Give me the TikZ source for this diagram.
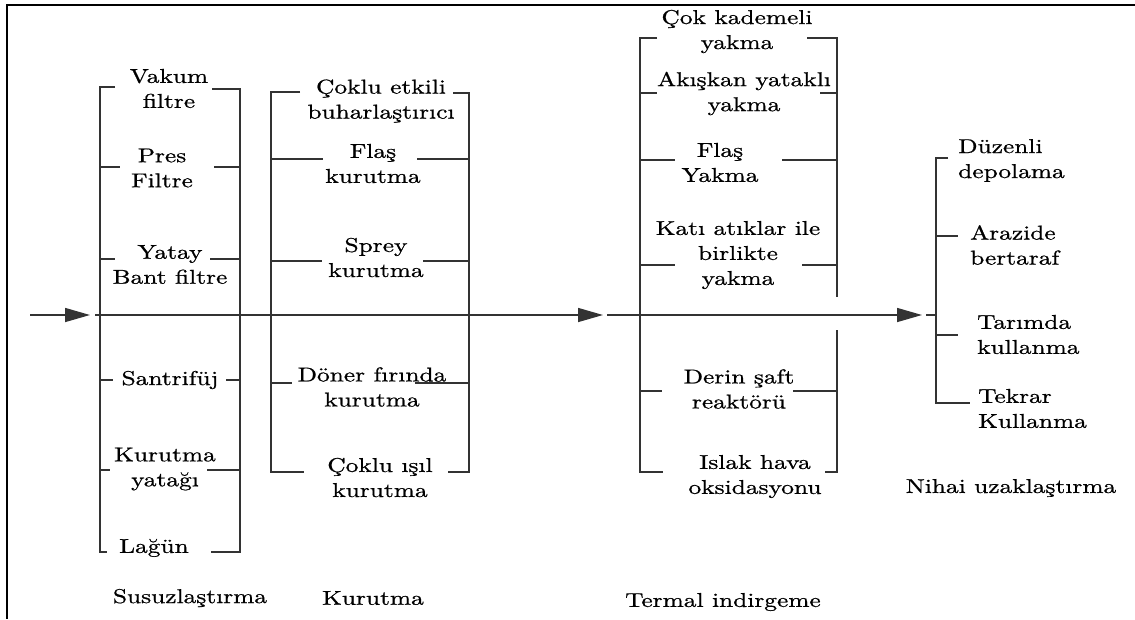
\documentclass[tikz,border=0pt]{standalone}
\usepackage{fontspec}
\newfontfamily\lblfont{lmroman10-regular.otf}[FakeStretch=1.27, FakeBold=0.8]
\usepackage{tikz}
\usetikzlibrary{arrows.meta}
\tikzset{
    bracket/.style={draw=black!80, line width=1.5pt},
    flow/.style={draw=black!80, line width=1.5pt},
    flowtip/.style={flow, -{Triangle[length=25pt,width=14pt]}},
    frameline/.style={draw=black, line width=2pt},
    lbl/.style={align=center, inner sep=0pt, font=\lblfont\fontsize{20}{25}\selectfont},
    lblw/.style={lbl, align=left, anchor=west}
}

\begin{document}
\begin{tikzpicture}[x=1pt, y=-1pt]
    \useasboundingbox (0,0) rectangle (1135,619);
    % frame
    \draw[frameline] (6,4.5) -- (1135,4.5);
    \draw[frameline] (7,4) -- (7,619);

    % main flow line
    \coordinate (in) at (30,315);
    \coordinate (t1) at (90,315);
    \coordinate (s1) at (95,315);
    \coordinate (t2) at (603,315);
    \coordinate (s2) at (607,315);
    \coordinate (t3) at (922,315);
    \coordinate (s3) at (926,315);
    \coordinate (e3) at (936,315);
    \draw[flowtip] (in) -- (t1);
    \draw[flowtip] (s1) -- (t2);
    \draw[flowtip] (s2) -- (t3);
    \draw[flow] (s3) -- (e3);

    % Susuzlastirma
    \def \xl {100}
    \def \xr {240}
    \draw[bracket] (115,87) -- (\xl,87) -- (\xl,552) -- (107,552);
    \draw[bracket] (212,89) -- (\xr,89) -- (\xr,552) -- (211,552);
    \foreach \y/\a/\b in {167/120/214, 259/115/210, 380/113/226, 470/110/207}{
    \draw[bracket] (\xl,\y) -- (\a,\y);
    \draw[bracket] (\b,\y) -- (\xr,\y);}
    \node[lbl] (vakum) at (169,88.5) {Vakum\\filtre};
    \node[lbl] (pres) at (162,168) {Pres\\Filtre};
    \node[lbl] (yatay) at (170,264.5) {Yatay\\Bant filtre};
    \node[lbl] (santrifuj) at (170,380) {Santrifüj};
    \node[lbl] (yatak) at (165,469) {Kurutma\\yatağı};
    \node[lbl] (lagun) at (154,548) {Lağün};
    \node[lbl] (susuz) at (190,598) {Susuzlaştırma};

    % Kurutma
    \def \xl {271}
    \def \xr {469}
    \draw[bracket] (300,92) -- (\xl,92) -- (\xl,472) -- (304,472);
    \draw[bracket] (453,93) -- (\xr,93) -- (\xr,472) -- (448,472);
    \foreach \y/\a/\b in {159/323/417, 261/322/423, 383/292/415}{
    \draw[bracket] (\xl,\y) -- (\a,\y);
    \draw[bracket] (\b,\y) -- (\xr,\y);}
    \node[lbl] (coklu) at (381,101) {Çoklu etkili\\buharlaştırıcı};
    \node[lbl] (flas) at (373,163.5) {Flaş\\kurutma};
    \node[lbl] (sprey) at (376,257.5) {Sprey\\kurutma};
    \node[lbl] (doner) at (372,387) {Döner fırında\\kurutma};
    \node[lbl] (isil) at (380,477.5) {Çoklu ışıl\\kurutma};
    \node[lbl] (kurutma) at (373,598) {Kurutma};

    % Termal indirgeme
    \def \xl {640}
    \def \xr {837}
    \draw[bracket] (657,38) -- (\xl,38) -- (\xl,472) -- (663,472);
    \draw[bracket] (807,38) -- (\xr,38) -- (\xr,297);
    \draw[bracket] (\xr,330) -- (\xr,472) -- (825,472);
    \foreach \y/\a/\b in {93/657/820, 160/675/782, 265/675/802, 391/662/793}{
    \draw[bracket] (\xl,\y) -- (\a,\y);
    \draw[bracket] (\b,\y) -- (\xr,\y);}
    \node[lbl] (kademe) at (737,31.5) {Çok kademeli\\yakma};
    \node[lbl] (akiskan) at (744,93.5) {Akışkan yataklı\\yakma};
    \node[lbl] (flasyak) at (720,162.5) {Flaş\\Yakma};
    \node[lbl] (kati) at (738,255) {Katı atıklar ile\\birlikte\\yakma};
    \node[lbl] (derin) at (739,389) {Derin şaft\\reaktörü};
    \node[lbl] (islak) at (755,476.5) {Islak hava\\oksidasyonu};
    \node[lbl] (termal) at (723,602) {Termal indirgeme};

    % Nihai uzaklastirma
    \def \xl {936}
    \draw[bracket] (948,158) -- (\xl,158) -- (\xl,403) -- (970,403);
    \foreach \y/\a in {236/958, 335/958}{
    \draw[bracket] (\xl,\y) -- (\a,\y);}
    \node[lblw] (duzenli) at (958,160.5) {Düzenli\\depolama};
    \node[lblw] (arazide) at (970,245) {Arazide\\bertaraf};
    \node[lblw] (tarimda) at (977,334.5) {Tarımda\\kullanma};
    \node[lblw] (tekrar) at (978,408.5) {Tekrar\\Kullanma};
    \node[lbl] (nihai) at (1011,488) {Nihai uzaklaştırma};
\end{tikzpicture}
\end{document}
